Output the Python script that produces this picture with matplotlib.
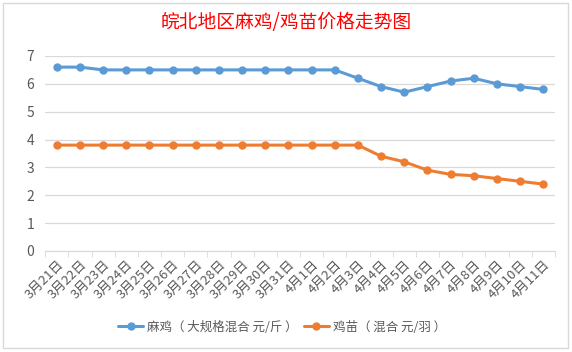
import matplotlib as mpl
mpl.use('Agg')
import matplotlib.pyplot as plt
from matplotlib.patches import Rectangle
from matplotlib.ticker import FixedLocator
import numpy as np

plt.rcParams['font.family'] = ['Noto Sans CJK SC', 'DejaVu Sans']

# data
dates = ['3月21日', '3月22日', '3月23日', '3月24日', '3月25日', '3月26日',
         '3月27日', '3月28日', '3月29日', '3月30日', '3月31日', '4月1日',
         '4月2日', '4月3日', '4月4日', '4月5日', '4月6日', '4月7日',
         '4月8日', '4月9日', '4月10日', '4月11日']
maji = [6.6, 6.6, 6.5, 6.5, 6.5, 6.5, 6.5, 6.5, 6.5, 6.5, 6.5, 6.5,
        6.5, 6.2, 5.9, 5.7, 5.9, 6.1, 6.2, 6.0, 5.9, 5.8]
jimiao = [3.8, 3.8, 3.8, 3.8, 3.8, 3.8, 3.8, 3.8, 3.8, 3.8, 3.8, 3.8,
          3.8, 3.8, 3.4, 3.2, 2.9, 2.75, 2.7, 2.6, 2.5, 2.4]
series_names = ['麻鸡（ 大规格混合 元/斤 ）', '鸡苗（ 混合 元/羽 ）']
colors = ['#5B9BD5', '#ED7D31']
title = '皖北地区麻鸡/鸡苗价格走势图'

fig = plt.figure(figsize=(5.72, 3.52), dpi=100)
# chart border like the spreadsheet chart box
fig.patches.append(Rectangle((0.005, 0.012), 0.988, 0.98, transform=fig.transFigure,
                             fill=False, edgecolor='#D9D9D9', linewidth=1))

ax = fig.add_axes([0.079, 0.287, 0.891, 0.554])
x = np.arange(len(dates))
for vals, name, c in zip([maji, jimiao], series_names, colors):
    ax.plot(x, vals, color=c, linewidth=2.2, marker='o', markersize=5, label=name,
            solid_capstyle='round')

ax.set_xlim(-0.5, len(dates) - 0.5)
ax.set_ylim(0, 7)
ax.set_yticks(range(0, 8))
ax.yaxis.grid(True, color='#D9D9D9', linewidth=0.9)
ax.set_axisbelow(True)
for s in ['top', 'right', 'left']:
    ax.spines[s].set_visible(False)
ax.spines['bottom'].set_color('#D9D9D9')
ax.tick_params(axis='y', length=0, labelsize=10, labelcolor='#595959', pad=8)

ax.set_xticks(x)
ax.set_xticklabels(dates, rotation=45, ha='right', rotation_mode='anchor',
                   fontsize=9.5, color='#595959')
ax.tick_params(axis='x', which='major', length=0, pad=5)
ax.xaxis.set_minor_locator(FixedLocator(np.arange(-0.5, len(dates), 1)))
ax.tick_params(axis='x', which='minor', length=4, color='#D9D9D9')

fig.text(0.5, 0.935, title, ha='center', va='center', color='#FF0000', fontsize=13.5)

fig.legend(loc='center', bbox_to_anchor=(0.493, 0.071), ncol=2, frameon=False,
           fontsize=9, labelcolor='#595959', handlelength=2.0, columnspacing=0.5,
           handletextpad=0.3)

fig.savefig('out.png', dpi=100)
